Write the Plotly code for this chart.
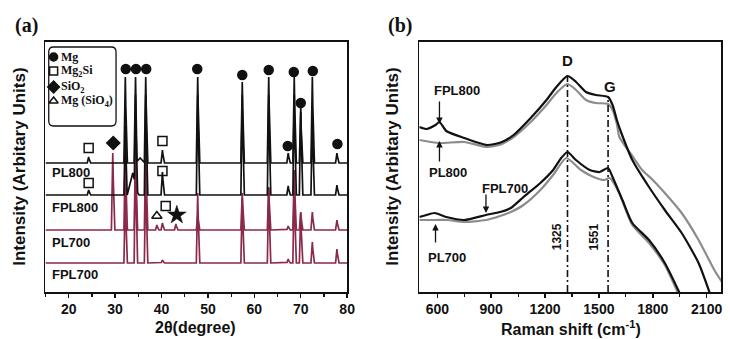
import numpy as np
import plotly.graph_objects as go

# ---------------- (a) XRD data ----------------
xrd_labels = ["PL800", "FPL800", "PL700", "FPL700"]
xrd_baselines = [129, 97, 62, 29]
xrd_colors = ["#111111", "#111111", "#8a2a48", "#8a2a48"]

pl800_pos = [24.3, 32.2, 34.4, 35.4, 36.6, 40.2, 47.8, 57.4, 63.1, 67.3, 68.6, 70.0, 72.5, 77.8]
pl800_hgt = [6, 86, 86, 5, 86, 13, 86, 81, 86, 10, 86, 51, 86, 10]
pl800_wid = [0.3, 0.3, 0.3, 1.0, 0.3, 0.3, 0.3, 0.3, 0.3, 0.3, 0.3, 0.3, 0.3, 0.3]

fpl800_pos = [24.3, 32.2, 33.8, 34.4, 36.6, 40.2, 47.8, 57.4, 63.1, 67.3, 68.6, 70.0, 72.5, 77.8]
fpl800_hgt = [5, 70, 22, 100, 100, 23, 100, 100, 100, 9, 100, 90, 80, 10]
fpl800_wid = [0.3, 0.3, 1.2, 0.3, 0.3, 0.3, 0.3, 0.3, 0.3, 0.3, 0.3, 0.3, 0.3, 0.3]

pl700_pos = [29.5, 32.2, 34.4, 36.6, 39.0, 40.2, 43.1, 47.8, 57.4, 63.1, 67.3, 68.6, 70.0, 72.5, 77.8]
pl700_hgt = [77, 80, 80, 80, 5, 7, 6, 15, 37, 43, 4, 60, 18, 18, 10]
pl700_wid = [0.3] * 15

fpl700_pos = [32.2, 34.4, 36.6, 40.2, 47.8, 57.4, 63.1, 67.3, 68.6, 70.0, 72.5, 77.8]
fpl700_hgt = [70, 110, 90, 3, 70, 65, 75, 4, 80, 50, 21, 14]
fpl700_wid = [0.3] * 12

xrd_peaks = [
    (pl800_pos, pl800_hgt, pl800_wid),
    (fpl800_pos, fpl800_hgt, fpl800_wid),
    (pl700_pos, pl700_hgt, pl700_wid),
    (fpl700_pos, fpl700_hgt, fpl700_wid),
]

# phase markers
mg_x = [32.3, 34.5, 36.7, 47.7, 57.4, 63.1, 68.5, 72.6, 70.0, 67.2, 77.9]
mg_y = [223, 223, 223, 223, 217, 222, 220, 221, 189, 146, 148]
mg2si_x = [24.3, 40.2, 24.3, 40.2, 40.9]
mg2si_y = [144, 151, 109, 121, 86]
sio2_x = [29.6]
sio2_y = [149]
mgsio4_x = [39.0]
mgsio4_y = [76]
star_x = [43.3]
star_y = [77]

legend_names = ["Mg", "Mg<sub>2</sub>Si", "SiO<sub>2</sub>", "Mg (SiO<sub>4</sub>)"]
legend_symbols = ["circle", "square-open", "diamond", "triangle-up-open"]
legend_rows = [235, 221, 205, 191]

# ---------------- (b) Raman data ----------------
fpl800_x = [500, 540, 590, 612, 650, 750, 877, 960, 1025, 1120, 1208, 1263, 1325, 1373, 1428, 1483, 1551, 1576,
            1600, 1625, 1686, 1779, 1867, 1961, 2055, 2125]
fpl800_y = [165, 163, 167, 170, 161, 154, 147, 150, 157, 174, 192, 205, 216, 210, 200, 197, 195, 187,
            172, 159, 132, 105, 82, 59, 29, -5]

pl800_x = [500, 612, 750, 877, 960, 1025, 1120, 1208, 1263, 1325, 1373, 1428, 1483, 1551, 1576, 1600, 1614,
           1686, 1741, 1800, 1867, 1961, 2055, 2143, 2185]
pl800_y = [152, 149, 150, 145, 148, 155, 170, 187, 199, 208, 202, 192, 189, 188, 182, 168, 155,
           136, 122, 112, 99, 79, 52, 22, 10]

fpl700_x = [500, 540, 585, 650, 750, 871, 950, 1009, 1080, 1174, 1245, 1290, 1325, 1372, 1449, 1504, 1551,
            1576, 1631, 1686, 1779, 1867, 1960]
fpl700_y = [75, 77, 79, 75, 72, 77, 80, 84, 95, 109, 122, 134, 140, 132, 122, 120, 124,
            115, 92, 69, 52, 29, -5]

pl700_x = [500, 590, 657, 750, 871, 950, 1009, 1080, 1174, 1245, 1318, 1400, 1470, 1530, 1560, 1610, 1686,
           1779, 1867, 1950]
pl700_y = [72, 72, 72, 70, 72, 76, 80, 87, 102, 117, 134, 122, 115, 112, 114, 100, 67,
           49, 27, -5]

raman_bands = [1325, 1551]
raman_band_tops = [220, 194]

BLACK = "#111111"
GRAY = "#8c8c8c"
SANS = "Liberation Sans"
SERIF = "Liberation Serif"

fig = go.Figure()

# ----- XRD traces (drawn bottom first) -----
grid = np.round(np.arange(15, 80.0001, 0.05), 3)
for i in [3, 2, 1, 0]:
    pos, hgt, wid = xrd_peaks[i]
    prof = np.zeros_like(grid)
    for p, h, w in zip(pos, hgt, wid):
        prof = np.maximum(prof, h * np.clip(1 - np.abs(grid - p) / w, 0, None))
    fig.add_trace(go.Scatter(x=grid, y=xrd_baselines[i] + prof, mode="lines",
                             line=dict(color=xrd_colors[i], width=1.7),
                             xaxis="x", yaxis="y", hoverinfo="skip"))

def mk(x, y, sym, size, xa="x", ya="y", width=1.5):
    fig.add_trace(go.Scatter(x=x, y=y, mode="markers", xaxis=xa, yaxis=ya,
                             marker=dict(symbol=sym, size=size, color=BLACK,
                                         line=dict(color=BLACK, width=width)),
                             hoverinfo="skip"))

mk(mg_x, mg_y, "circle", 9)
mk(mg2si_x, mg2si_y, "square-open", 9)
mk(sio2_x, sio2_y, "diamond", 10)
mk(mgsio4_x, mgsio4_y, "triangle-up-open", 9)
mk(star_x, star_y, "star", 14, width=0.5)

# legend symbols
for sym, yy in zip(legend_symbols, legend_rows):
    mk([16.75], [yy], sym, 8 if sym != "diamond" else 9)

annotations = []
for name, yy in zip(legend_names, legend_rows):
    annotations.append(dict(x=17.9, y=yy, xref="x", yref="y", text=name, showarrow=False,
                            xanchor="left", yanchor="middle",
                            font=dict(family=SERIF, size=12, color=BLACK, weight="bold")))

label_y = [120, 85, 50, 18]
for lab, yy in zip(xrd_labels, label_y):
    annotations.append(dict(x=15.95, y=yy, xref="x", yref="y", text=lab, showarrow=False,
                            xanchor="left", yanchor="middle",
                            font=dict(family=SANS, size=13, color=BLACK, weight="bold")))

# ----- Raman traces -----
for xs, ys, col in [(pl800_x, pl800_y, GRAY), (fpl800_x, fpl800_y, BLACK),
                    (pl700_x, pl700_y, GRAY), (fpl700_x, fpl700_y, BLACK)]:
    fig.add_trace(go.Scatter(x=xs, y=ys, mode="lines", xaxis="x2", yaxis="y2",
                             line=dict(color=col, width=2.2, shape="spline", smoothing=0.6),
                             hoverinfo="skip"))

for bx, top in zip(raman_bands, raman_band_tops):
    fig.add_trace(go.Scatter(x=[bx, bx], y=[0, top], mode="lines", xaxis="x2", yaxis="y2",
                             line=dict(color=BLACK, width=1.6, dash="7px,3px,2px,3px"),
                             hoverinfo="skip"))

annotations += [
    dict(x=1325, y=231, xref="x2", yref="y2", text="D", showarrow=False,
         font=dict(family=SANS, size=15, color=BLACK, weight="bold")),
    dict(x=1560, y=206, xref="x2", yref="y2", text="G", showarrow=False,
         font=dict(family=SANS, size=15, color=BLACK, weight="bold")),
    dict(x=1268, y=55, xref="x2", yref="y2", text="1325", showarrow=False, textangle=-90,
         font=dict(family=SANS, size=12, color=BLACK, weight="bold")),
    dict(x=1470, y=55, xref="x2", yref="y2", text="1551", showarrow=False, textangle=-90,
         font=dict(family=SANS, size=12, color=BLACK, weight="bold")),
    dict(x=712, y=202, xref="x2", yref="y2", text="FPL800", showarrow=False,
         font=dict(family=SANS, size=13, color=BLACK, weight="bold")),
    dict(x=657, y=120, xref="x2", yref="y2", text="PL800", showarrow=False,
         font=dict(family=SANS, size=13, color=BLACK, weight="bold")),
    dict(x=975, y=104, xref="x2", yref="y2", text="FPL700", showarrow=False,
         font=dict(family=SANS, size=13, color=BLACK, weight="bold")),
    dict(x=655, y=35, xref="x2", yref="y2", text="PL700", showarrow=False,
         font=dict(family=SANS, size=13, color=BLACK, weight="bold")),
]
# arrows (head at x,y; tail offset ay in px)
for ax_x, ax_y, off in [(612, 168, -24), (612, 151, 22), (871, 79, -20), (590, 68, 20)]:
    annotations.append(dict(x=ax_x, y=ax_y, xref="x2", yref="y2", text="", showarrow=True,
                            ax=0, ay=off, arrowhead=2, arrowsize=1, arrowwidth=1.3,
                            arrowcolor=BLACK))

# panel labels / titles
for px, txt in [(13, "(a)"), (390, "(b)")]:
    annotations.append(dict(x=px / 730, y=1 - 26 / 339, xref="paper", yref="paper", text=txt,
                            showarrow=False, xanchor="left", yanchor="middle",
                            font=dict(family=SERIF, size=20, color=BLACK, weight="bold")))

for px in [20, 397]:
    annotations.append(dict(x=px / 730, y=1 - 167 / 339, xref="paper", yref="paper",
                            text="Intensity (Arbitary Units)", textangle=-90, showarrow=False,
                            xanchor="center", yanchor="middle",
                            font=dict(family=SANS, size=17, color=BLACK, weight="bold")))
annotations.append(dict(x=198 / 730, y=1 - 327 / 339, xref="paper", yref="paper",
                        text="2θ(degree)", showarrow=False, xanchor="center", yanchor="middle",
                        font=dict(family=SANS, size=16, color=BLACK, weight="bold")))
annotations.append(dict(x=577 / 730, y=1 - 328 / 339, xref="paper", yref="paper",
                        text="Raman shift (cm<sup>-1</sup>)", showarrow=False,
                        xanchor="center", yanchor="middle",
                        font=dict(family=SANS, size=16, color=BLACK, weight="bold")))

# rounded legend box (a)
x0, x1, y0, y1, rx, ry = 15.7, 30.2, 166, 245, 1.0, 5
path = (f"M {x0+rx},{y1} L {x1-rx},{y1} Q {x1},{y1} {x1},{y1-ry} L {x1},{y0+ry} "
        f"Q {x1},{y0} {x1-rx},{y0} L {x0+rx},{y0} Q {x0},{y0} {x0},{y0+ry} "
        f"L {x0},{y1-ry} Q {x0},{y1} {x0+rx},{y1} Z")
shapes = [dict(type="path", path=path, xref="x", yref="y", line=dict(color=BLACK, width=1.3))]

ydom = [1 - 292 / 339, 1 - 42 / 339]
axis_common = dict(showline=True, mirror=True, linecolor=BLACK, linewidth=1.6, showgrid=False,
                   zeroline=False)
tickfont = dict(family=SANS, size=14, color=BLACK, weight="bold")

fig.update_layout(
    width=730, height=339, margin=dict(l=0, r=0, t=0, b=0),
    paper_bgcolor="white", plot_bgcolor="white", showlegend=False,
    xaxis=dict(domain=[46 / 730, 351 / 730], anchor="y", range=[15, 80],
               tickvals=[20, 30, 40, 50, 60, 70, 80], ticks="outside", ticklen=4, tickwidth=1.5,
               tickcolor=BLACK, tickfont=tickfont,
               minor=dict(tickvals=[15, 25, 35, 45, 55, 65, 75], ticks="outside", ticklen=3,
                          tickwidth=1.2, tickcolor=BLACK),
               **axis_common),
    yaxis=dict(domain=ydom, anchor="x", range=[0, 250], showticklabels=False, ticks="",
               **axis_common),
    xaxis2=dict(domain=[424 / 730, 729 / 730], anchor="y2", range=[500, 2180],
                tickvals=[600, 900, 1200, 1500, 1800, 2100], ticks="outside", ticklen=4,
                tickwidth=1.5, tickcolor=BLACK, tickfont=tickfont,
                minor=dict(tickvals=[750, 1050, 1350, 1650, 1950], ticks="outside", ticklen=3,
                           tickwidth=1.2, tickcolor=BLACK),
                **axis_common),
    yaxis2=dict(domain=ydom, anchor="x2", range=[0, 250], showticklabels=False, ticks="",
                **axis_common),
    annotations=annotations, shapes=shapes,
)

fig.write_html("out.html", config={"displayModeBar": False, "staticPlot": True},
               post_script="document.body.style.margin='0';document.body.style.overflow='hidden';")
